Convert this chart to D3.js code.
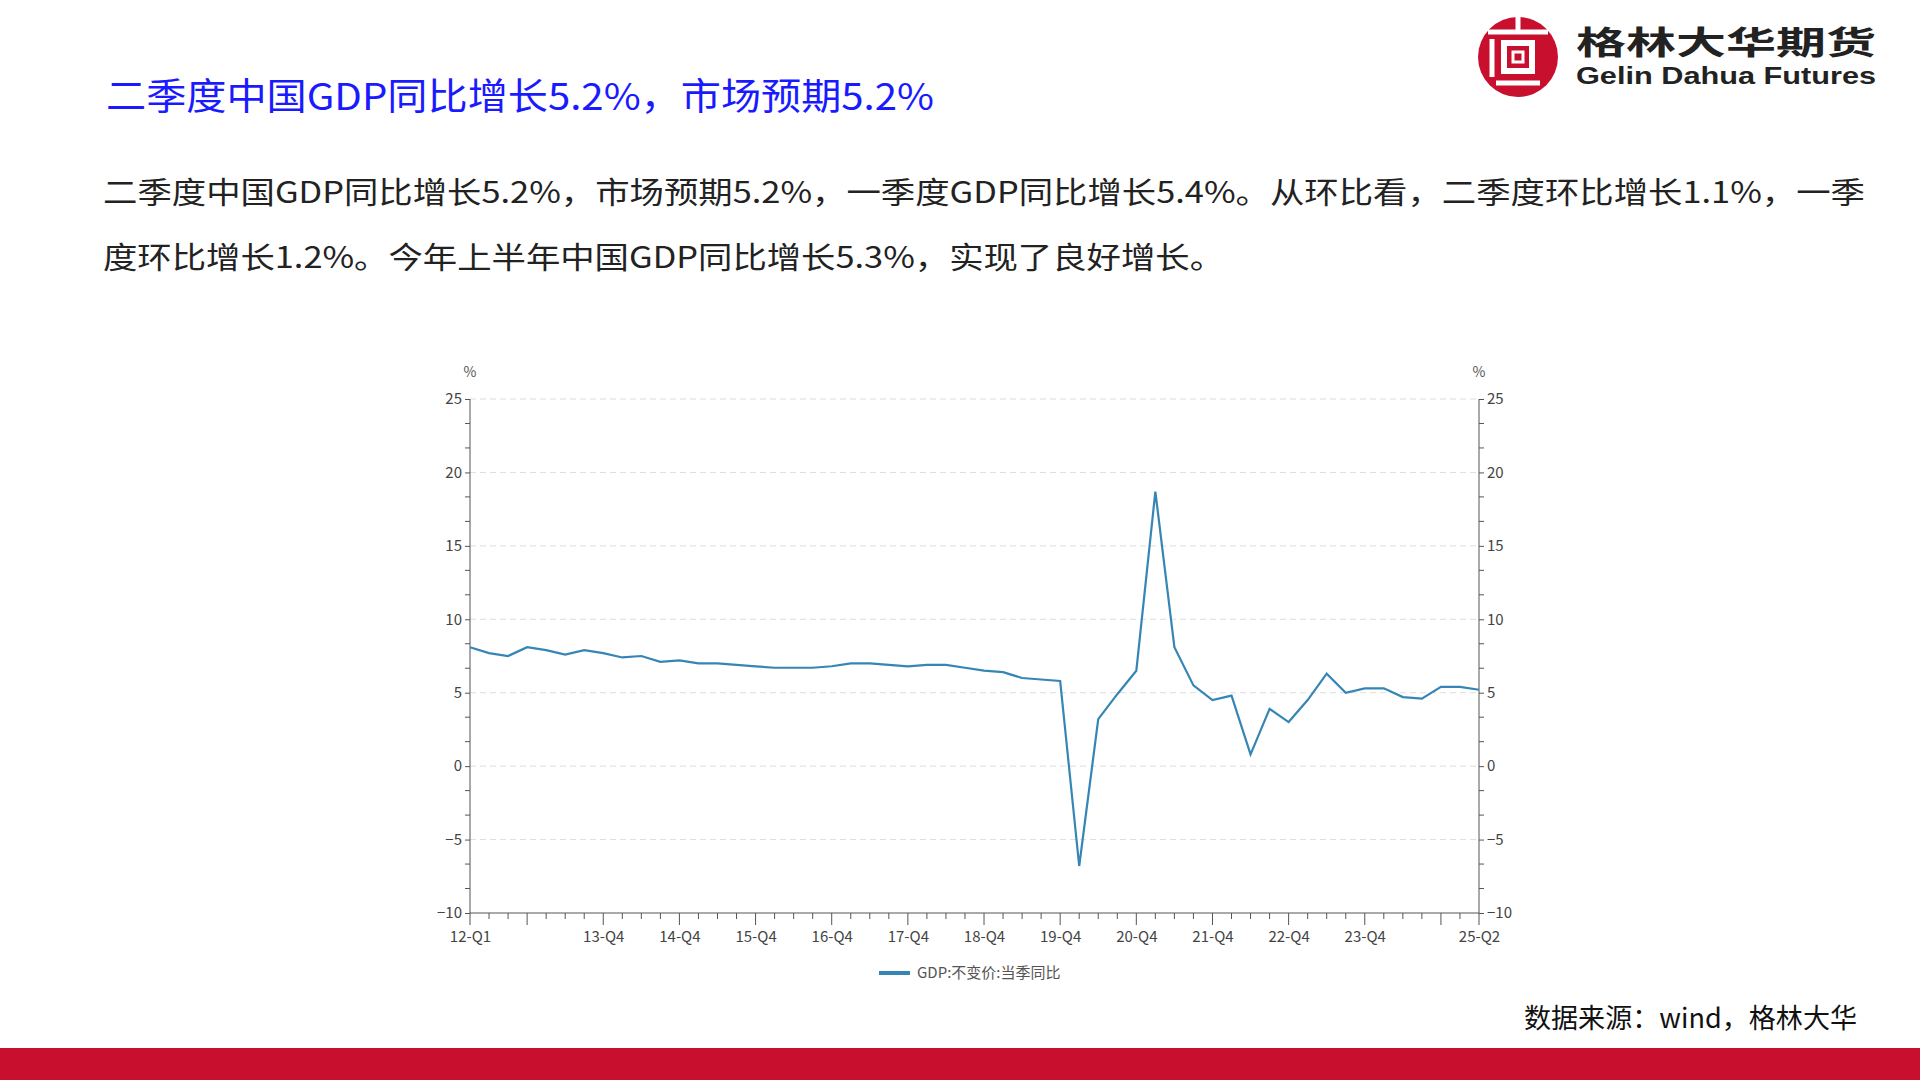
<!DOCTYPE html>
<html><head><meta charset="utf-8">
<script src="https://d3js.org/d3.v7.min.js"></script>
<style>body{margin:0;background:#fff;}svg{display:block;}</style>
</head><body>
<script>
const categories = [];
const years = ["12","13","14","15","16","17","18","19","20","21","22","23","24","25"];
years.forEach(y=>["Q1","Q2","Q3","Q4"].forEach(q=>categories.push(y+"-"+q)));
categories.splice(54);
const gdpYoY = [8.1,7.7,7.5,8.1, 7.9,7.6,7.9,7.7, 7.4,7.5,7.1,7.2, 7.0,7.0,6.9,6.8,
 6.7,6.7,6.7,6.8, 7.0,7.0,6.9,6.8, 6.9,6.9,6.7,6.5, 6.4,6.0,5.9,5.8,
 -6.8,3.2,4.9,6.5, 18.7,8.1,5.5,4.5, 4.8,0.8,3.9,3.0, 4.5,6.3,5.0,5.3,
 5.3,4.7,4.6,5.4, 5.4,5.2];
const tickLabels = ["12-Q1","13-Q4","14-Q4","15-Q4","16-Q4","17-Q4","18-Q4","19-Q4","20-Q4","21-Q4","22-Q4","23-Q4","25-Q2"];
const majorTicks = ["12-Q1","12-Q4","13-Q4","14-Q4","15-Q4","16-Q4","17-Q4","18-Q4","19-Q4","20-Q4","21-Q4","22-Q4","23-Q4","24-Q4","25-Q2"];
const yTicks = [-10,-5,0,5,10,15,20,25];
const seriesName = "GDP:不变价:当季同比";

const W=1920,H=1080;
const svg=d3.select("body").append("svg").attr("width",W).attr("height",H);
const font="'Microsoft YaHei','Noto Sans CJK SC','Noto Sans',sans-serif";

svg.append("text").attr("x",106).attr("y",110).attr("fill","#1a1aff").attr("font-size",37)
 .attr("font-family",font).attr("textLength",828).attr("lengthAdjust","spacingAndGlyphs").text("二季度中国GDP同比增长5.2%，市场预期5.2%");
const body=["二季度中国GDP同比增长5.2%，市场预期5.2%，一季度GDP同比增长5.4%。从环比看，二季度环比增长1.1%，一季",
"度环比增长1.2%。今年上半年中国GDP同比增长5.3%，实现了良好增长。"];
svg.append("text").attr("x",103).attr("y",203).attr("font-size",30).attr("fill","#222").attr("font-family",font)
 .attr("textLength",1762).attr("lengthAdjust","spacingAndGlyphs").text(body[0]);
svg.append("text").attr("x",103).attr("y",268).attr("font-size",30).attr("fill","#222").attr("font-family",font)
 .attr("textLength",1121).attr("lengthAdjust","spacingAndGlyphs").text(body[1]);

const lg=svg.append("g").attr("transform","translate(1518,57)");
lg.append("circle").attr("r",40).attr("fill","#c8102e");
lg.append("rect").attr("x",-14).attr("y",-14).attr("width",28).attr("height",28).attr("fill","none").attr("stroke","#fff").attr("stroke-width",6);
lg.append("rect").attr("x",-5).attr("y",-5).attr("width",10).attr("height",10).attr("fill","#c8102e").attr("stroke","#fff").attr("stroke-width",3);
lg.append("line").attr("x1",-30).attr("x2",30).attr("y1",-25).attr("y2",-25).attr("stroke","#fff").attr("stroke-width",5);
lg.append("line").attr("x1",-26).attr("x2",-26).attr("y1",-18).attr("y2",20).attr("stroke","#fff").attr("stroke-width",5);
lg.append("line").attr("x1",-22).attr("x2",22).attr("y1",26).attr("y2",26).attr("stroke","#fff").attr("stroke-width",5);
lg.append("line").attr("x1",0).attr("x2",0).attr("y1",-40).attr("y2",-25).attr("stroke","#fff").attr("stroke-width",5);
svg.append("text").attr("x",1576).attr("y",54).attr("font-size",32).attr("font-weight","bold").attr("fill","#222")
 .attr("font-family",font).attr("textLength",300).attr("lengthAdjust","spacingAndGlyphs").text("格林大华期货");
svg.append("text").attr("x",1576).attr("y",84).attr("font-size",24).attr("font-weight","bold").attr("fill","#222")
 .attr("font-family","'Liberation Sans',Arial,sans-serif").attr("textLength",300).attr("lengthAdjust","spacingAndGlyphs").text("Gelin Dahua Futures");

const L=470,R=1479,T=399,B=913;
const x=d3.scalePoint().domain(categories).range([L,R]);
const y=d3.scaleLinear().domain([-10,25]).range([B,T]);
const g=svg.append("g").attr("font-family",font);
g.selectAll(".grid").data(yTicks.filter(v=>v>-10)).join("line").attr("x1",L).attr("x2",R)
 .attr("y1",d=>y(d)).attr("y2",d=>y(d)).attr("stroke","#ddd").attr("stroke-dasharray","6,4");
const yl=d3.axisLeft(y).tickValues(yTicks).tickSize(5).tickPadding(3);
const yr=d3.axisRight(y).tickValues(yTicks).tickSize(5).tickPadding(3);
function styleAx(s){s.select(".domain").attr("stroke","#555");s.selectAll("line").attr("stroke","#555");
 s.selectAll("text").attr("fill","#444").attr("font-size",15).attr("font-family",font);}
const gl=g.append("g").attr("transform",`translate(${L},0)`).call(yl).call(styleAx);
const gr=g.append("g").attr("transform",`translate(${R},0)`).call(yr).call(styleAx);
gl.select(".domain").attr("d",`M0,${T}V${B}`);gr.select(".domain").attr("d",`M0,${T}V${B}`);
const minorVals=d3.range(0,22).map(i=>-10+i*35/21).filter(v=>!yTicks.some(t=>Math.abs(t-v)<0.01));
g.selectAll(".ml").data(minorVals).join("line").attr("x1",L-5).attr("x2",L).attr("y1",d=>y(d)).attr("y2",d=>y(d)).attr("stroke","#555");
g.selectAll(".mr").data(minorVals).join("line").attr("x1",R).attr("x2",R+5).attr("y1",d=>y(d)).attr("y2",d=>y(d)).attr("stroke","#555");
g.append("text").attr("x",L).attr("y",377).attr("text-anchor","middle").attr("font-size",14).attr("fill","#555").text("%");
g.append("text").attr("x",R).attr("y",377).attr("text-anchor","middle").attr("font-size",14).attr("fill","#555").text("%");
const xa=d3.axisBottom(x).tickValues(tickLabels).tickSize(0).tickPadding(18);
const gx=g.append("g").attr("transform",`translate(0,${B})`).call(xa).call(styleAx);
gx.select(".domain").attr("d",`M${L},0H${R}`);
g.selectAll(".xt").data(categories).join("line").attr("x1",d=>x(d)).attr("x2",d=>x(d)).attr("y1",B)
 .attr("y2",d=>B+(majorTicks.includes(d)?12:6)).attr("stroke","#555");
g.append("path").datum(gdpYoY).attr("fill","none").attr("stroke","#3585b5").attr("stroke-width",2.2)
 .attr("d",d3.line().x((d,i)=>x(categories[i])).y(d=>y(d)));
g.append("line").attr("x1",879).attr("x2",910).attr("y1",973).attr("y2",973).attr("stroke","#3585b5").attr("stroke-width",4);
g.append("text").attr("x",917).attr("y",978).attr("font-size",15).attr("fill","#555").text(seriesName);

svg.append("text").attr("x",1857).attr("y",1028).attr("text-anchor","end").attr("font-size",27).attr("fill","#111")
 .attr("font-family",font).attr("textLength",333).attr("lengthAdjust","spacingAndGlyphs").text("数据来源：wind，格林大华");
svg.append("rect").attr("x",0).attr("y",1048).attr("width",W).attr("height",32).attr("fill","#c8102e");
</script>
</body></html>
